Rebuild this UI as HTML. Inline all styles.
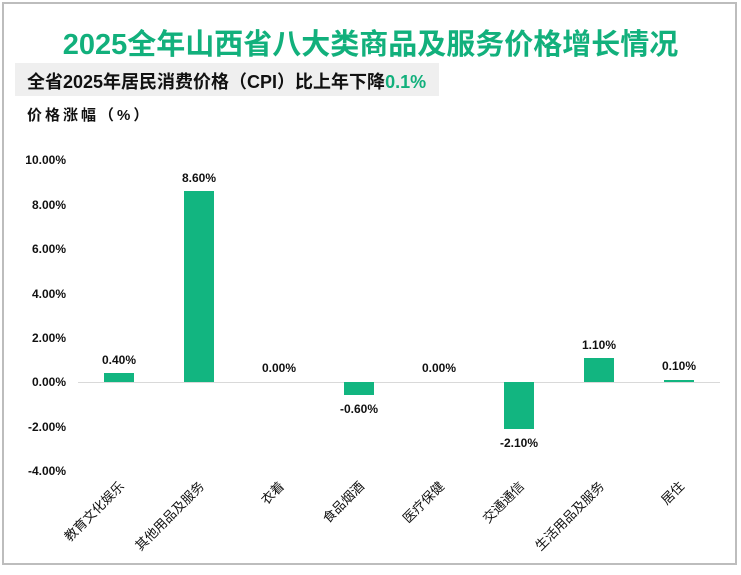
<!DOCTYPE html>
<html><head><meta charset="utf-8"><style>
body{margin:0;background:#fff;width:741px;height:575px;position:relative;overflow:hidden;font-family:"Liberation Sans","Noto Sans CJK SC",sans-serif}
.frame{position:absolute;left:2px;top:2px;width:731px;height:559px;border:2px solid #bdbdbd}
.t{position:absolute;white-space:nowrap}
</style></head><body>
<div class="frame"></div>
<div class="t" style="left:0;width:741px;top:21px;text-align:center;font-size:29px;font-weight:bold;color:#12b07c">2025全年山西省八大类商品及服务价格增长情况</div>
<div class="t" style="left:15px;top:63px;width:424px;height:33px;background:#efefef"></div>
<div class="t" style="left:27px;top:68px;font-size:18px;font-weight:bold;color:#111">全省2025年居民消费价格（CPI）比上年下降<span style="color:#12b07c">0.1%</span></div>
<div class="t" style="left:27px;top:104px;font-size:15px;font-weight:bold;letter-spacing:3px;color:#111">价格涨幅（%）</div>
<svg width="741" height="575" style="position:absolute;left:0;top:0" font-family="Liberation Sans, Noto Sans CJK SC, sans-serif">
<g font-size="12" fill="#111" text-anchor="end" font-weight="bold">
<text x="66" y="164">10.00%</text><text x="66" y="209">8.00%</text><text x="66" y="253">6.00%</text><text x="66" y="298">4.00%</text><text x="66" y="342">2.00%</text><text x="66" y="386">0.00%</text><text x="66" y="431">-2.00%</text><text x="66" y="475">-4.00%</text>
</g>
<line x1="78" y1="382.5" x2="720" y2="382.5" stroke="#d9d9d9"/>
<g fill="#12b580">
<rect x="104" y="373" width="30" height="9"/>
<rect x="184" y="191" width="30" height="191"/>
<rect x="344" y="382" width="30" height="13"/>
<rect x="504" y="382" width="30" height="47"/>
<rect x="584" y="358" width="30" height="24"/>
<rect x="664" y="380" width="30" height="2"/>
</g>
<g font-size="12" fill="#111" text-anchor="middle" font-weight="bold">
<text x="119" y="364">0.40%</text><text x="199" y="182">8.60%</text><text x="279" y="372">0.00%</text><text x="359" y="413">-0.60%</text><text x="439" y="372">0.00%</text><text x="519" y="447">-2.10%</text><text x="599" y="349">1.10%</text><text x="679" y="370">0.10%</text>
</g>
<g font-size="13" fill="#111" text-anchor="end">
<text transform="translate(125,487) rotate(-45)">教育文化娱乐</text>
<text transform="translate(205,487) rotate(-45)">其他用品及服务</text>
<text transform="translate(285,487) rotate(-45)">衣着</text>
<text transform="translate(365,487) rotate(-45)">食品烟酒</text>
<text transform="translate(445,487) rotate(-45)">医疗保健</text>
<text transform="translate(525,487) rotate(-45)">交通通信</text>
<text transform="translate(605,487) rotate(-45)">生活用品及服务</text>
<text transform="translate(685,487) rotate(-45)">居住</text>
</g>
</svg>
</body></html>
